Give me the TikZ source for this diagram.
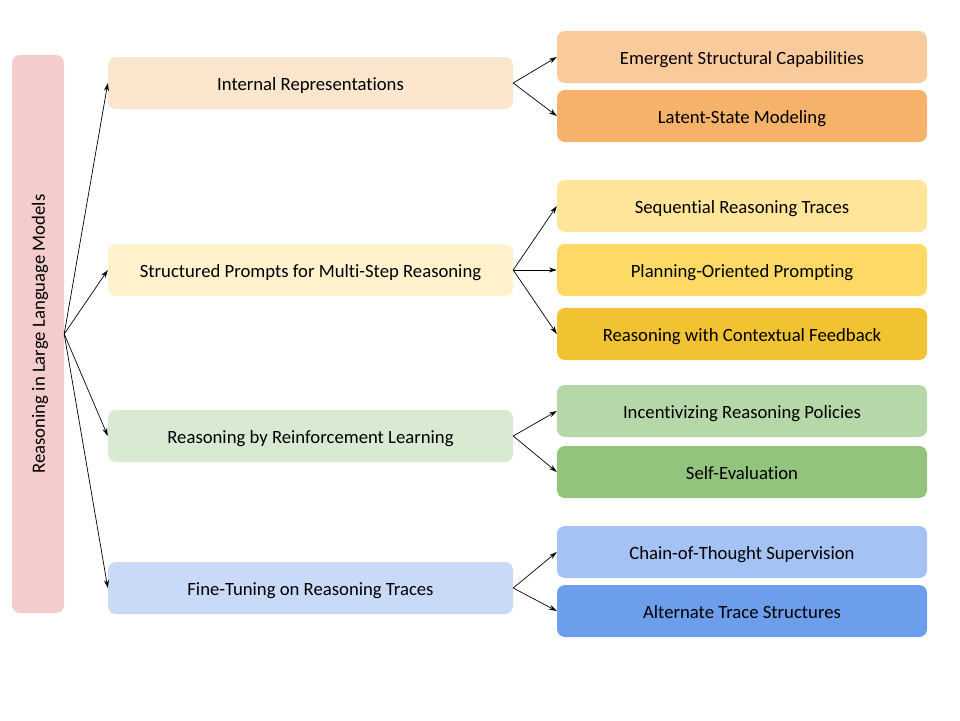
\documentclass[tikz,border=0pt]{standalone}
\usepackage{fontspec}
\setmainfont{Carlito}[Ligatures=NoCommon]
\usepackage{tikz}
\usetikzlibrary{arrows.meta,positioning}
\definecolor{rootPink}{HTML}{F4CCCC}
\definecolor{orA}{HTML}{FCE5CD}
\definecolor{orB}{HTML}{F9CB9C}
\definecolor{orC}{HTML}{F6B26B}
\definecolor{yeA}{HTML}{FFF2CC}
\definecolor{yeB}{HTML}{FFE599}
\definecolor{yeC}{HTML}{FFD966}
\definecolor{yeD}{HTML}{F1C232}
\definecolor{grA}{HTML}{D9EAD3}
\definecolor{grB}{HTML}{B6D7A8}
\definecolor{grC}{HTML}{93C47D}
\definecolor{blA}{HTML}{C9DAF8}
\definecolor{blB}{HTML}{A4C2F4}
\definecolor{blC}{HTML}{6D9EEB}

\begin{document}
\begin{tikzpicture}[x=1pt,y=-1pt,font=\fontsize{18.7}{22}\selectfont,
    box/.style={rounded corners=8pt,inner sep=0pt,minimum height=52pt,align=center,
        text height=19pt,text depth=4pt},
    midbox/.style={box,minimum width=405pt},
    leafbox/.style={box,minimum width=370pt},
    link/.style={-{Stealth[length=8pt,width=5pt]},line width=0.7pt}]
        \useasboundingbox (0,0) rectangle (960,720);

        % Root
        \node[rounded corners=8pt,fill=rootPink,minimum width=52pt,minimum height=558pt] (root) at (38,334) {};
        \node[rotate=90] (rootlabel) at ([xshift=2pt]root.center) {Reasoning in Large Language Models};

        % Second level
        \node[midbox,fill=orA] (internal) at (310.5,83) {Internal Representations};
        \node[midbox,fill=yeA] (prompts) at (310.5,270) {Structured Prompts for Multi-Step Reasoning};
        \node[midbox,fill=grA] (rl) at (310.5,436) {Reasoning by Reinforcement Learning};
        \node[midbox,fill=blA] (finetune) at (310.5,588) {Fine-Tuning on Reasoning Traces};

        % Leaves
        \node[leafbox,fill=orB] (emergent) at (742,57) {Emergent Structural Capabilities};
        \node[leafbox,fill=orC] (latent) at (742,116) {Latent-State Modeling};
        \node[leafbox,fill=yeB] (sequential) at (742,206) {Sequential Reasoning Traces};
        \node[leafbox,fill=yeC] (planning) at (742,270) {Planning-Oriented Prompting};
        \node[leafbox,fill=yeD] (contextual) at (742,334) {Reasoning with Contextual Feedback};
        \node[leafbox,fill=grB] (incentive) at (742,411) {Incentivizing Reasoning Policies};
        \node[leafbox,fill=grC] (selfeval) at (742,472) {Self-Evaluation};
        \node[leafbox,fill=blB] (cot) at (742,552) {Chain-of-Thought Supervision};
        \node[leafbox,fill=blC] (alternate) at (742,611) {Alternate Trace Structures};

        % Connectors
        \foreach \m in {internal,prompts,rl,finetune}
            \draw[link] (root.east) -- (\m.west);
        \foreach \m/\l in {internal/emergent,internal/latent,
                           prompts/sequential,prompts/planning,prompts/contextual,
                           rl/incentive,rl/selfeval,
                           finetune/cot,finetune/alternate}
            \draw[link] (\m.east) -- (\l.west);
    \end{tikzpicture}
\end{document}
